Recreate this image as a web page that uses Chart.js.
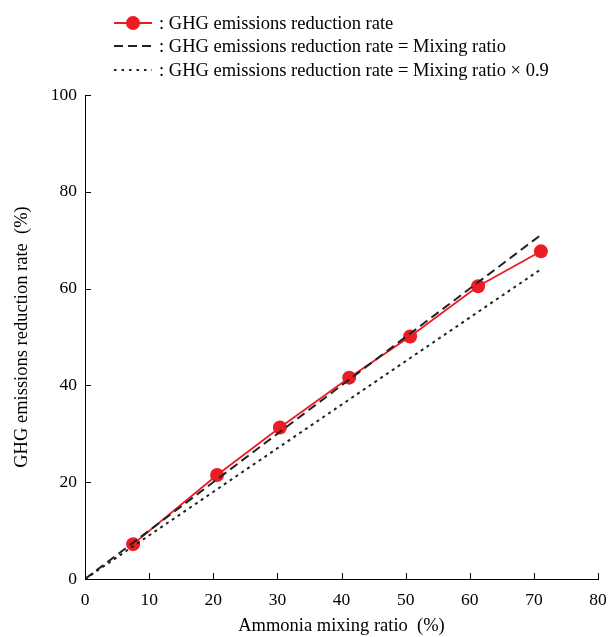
<!DOCTYPE html>
<html lang="en">
<head>
  <meta charset="UTF-8" />
  <title>GHG emissions reduction rate</title>
  <script src="https://cdn.jsdelivr.net/npm/chart.js@4.4.0/dist/chart.umd.min.js"></script>
  <style>
    html, body { margin: 0; padding: 0; background: #fff; }
    #wrap { width: 610px; height: 637px; position: relative; }
  </style>
</head>
<body>
  <div id="wrap"><canvas id="ghgChart"></canvas></div>

  <script>
    // measured points
    const mixingRatio = [7.5, 20.6, 30.4, 41.2, 50.7, 61.3, 71.1];
    const reductionRate = [7.2, 21.5, 31.3, 41.6, 50.1, 60.5, 67.7];
    // reference lines (end points)
    const refX = [0, 71.1];
    const refEqual = [0, 71.1];
    const refNinety = [0, 64.0];
    const xTicks = [0, 10, 20, 30, 40, 50, 60, 70, 80];
    const yTicks = [0, 20, 40, 60, 80, 100];
    const legendLabels = [
      ': GHG emissions reduction rate',
      ': GHG emissions reduction rate = Mixing ratio',
      ': GHG emissions reduction rate = Mixing ratio \u00d7 0.9'
    ];

    const RED = '#ec1c24';
    const DARK = '#222222';
    const FONT = "'Liberation Serif', 'DejaVu Serif', serif";

    const pts = (xs, ys) => xs.map((x, i) => ({ x: x, y: ys[i] }));

    // inward tick marks + custom legend
    const decor = {
      id: 'decor',
      afterDraw(chart) {
        const ctx = chart.ctx;
        const xs = chart.scales.x, ys = chart.scales.y;
        const a = chart.chartArea;
        ctx.save();
        ctx.strokeStyle = '#000';
        ctx.lineWidth = 1;
        ctx.beginPath();
        xTicks.forEach(v => {
          const px = Math.round(xs.getPixelForValue(v)) + 0.5;
          ctx.moveTo(px, a.bottom);
          ctx.lineTo(px, a.bottom - 6);
        });
        yTicks.forEach(v => {
          const py = Math.round(ys.getPixelForValue(v)) + 0.5;
          ctx.moveTo(a.left, py);
          ctx.lineTo(a.left + 6, py);
        });
        ctx.stroke();

        // legend
        const lx0 = 114, lx1 = 152, tx = 159;
        const rows = [23, 46, 70];
        ctx.font = '18.5px ' + FONT;
        ctx.fillStyle = '#000';
        ctx.textBaseline = 'middle';
        ctx.textAlign = 'left';
        rows.forEach((ry, i) => {
          ctx.beginPath();
          if (i === 0) {
            ctx.strokeStyle = RED; ctx.lineWidth = 2; ctx.setLineDash([]);
          } else if (i === 1) {
            ctx.strokeStyle = DARK; ctx.lineWidth = 2; ctx.setLineDash([9, 5]);
          } else {
            ctx.strokeStyle = DARK; ctx.lineWidth = 2; ctx.setLineDash([2.5, 5]);
          }
          ctx.moveTo(lx0, ry);
          ctx.lineTo(lx1, ry);
          ctx.stroke();
          ctx.setLineDash([]);
          if (i === 0) {
            ctx.beginPath();
            ctx.fillStyle = RED;
            ctx.arc((lx0 + lx1) / 2, ry, 7, 0, Math.PI * 2);
            ctx.fill();
            ctx.fillStyle = '#000';
          }
          ctx.fillText(legendLabels[i], tx, ry + 1);
        });
        ctx.restore();
      }
    };

    new Chart(document.getElementById('ghgChart'), {
      type: 'scatter',
      data: {
        datasets: [
          {
            label: 'GHG emissions reduction rate = Mixing ratio',
            data: pts(refX, refEqual),
            showLine: true,
            borderColor: DARK,
            borderWidth: 2,
            borderDash: [9, 5],
            pointRadius: 0
          },
          {
            label: 'GHG emissions reduction rate = Mixing ratio × 0.9',
            data: pts(refX, refNinety),
            showLine: true,
            borderColor: DARK,
            borderWidth: 2,
            borderDash: [3, 4],
            pointRadius: 0
          },
          {
            label: 'GHG emissions reduction rate',
            data: pts(mixingRatio, reductionRate),
            showLine: true,
            borderColor: RED,
            borderWidth: 1.8,
            backgroundColor: RED,
            pointRadius: 7,
            pointHoverRadius: 7,
            pointBorderWidth: 0
          }
        ]
      },
      options: {
        responsive: true,
        maintainAspectRatio: false,
        animation: false,
        layout: { padding: { top: 95, right: 12, left: 0, bottom: 0 } },
        plugins: { legend: { display: false }, tooltip: { enabled: false } },
        scales: {
          x: {
            type: 'linear',
            min: 0, max: 80,
            afterBuildTicks: s => { s.ticks = xTicks.map(v => ({ value: v })); },
            afterFit: s => { s.height = 58; s.paddingLeft = 0; s.paddingRight = 0; },
            grid: { drawOnChartArea: false, drawTicks: false },
            border: { display: true, color: '#000', width: 1 },
            ticks: { color: '#000', padding: 11, font: { family: FONT, size: 17.5 }, maxRotation: 0 },
            title: {
              display: true,
              text: 'Ammonia mixing ratio\u2002(%)',
              color: '#000',
              font: { family: FONT, size: 18.5 },
              padding: { top: 0, bottom: 0 }
            }
          },
          y: {
            type: 'linear',
            min: 0, max: 100,
            afterBuildTicks: s => { s.ticks = yTicks.map(v => ({ value: v })); },
            afterFit: s => { s.width = 85; s.paddingTop = 0; s.paddingBottom = 0; },
            grid: { drawOnChartArea: false, drawTicks: false },
            border: { display: true, color: '#000', width: 1 },
            ticks: { color: '#000', padding: 8, font: { family: FONT, size: 17.5 } },
            title: {
              display: true,
              text: 'GHG emissions reduction rate\u2002(%)',
              color: '#000',
              font: { family: FONT, size: 18.5 },
              padding: { top: 11, bottom: 0 }
            }
          }
        }
      },
      plugins: [decor]
    });
  </script>
</body>
</html>
